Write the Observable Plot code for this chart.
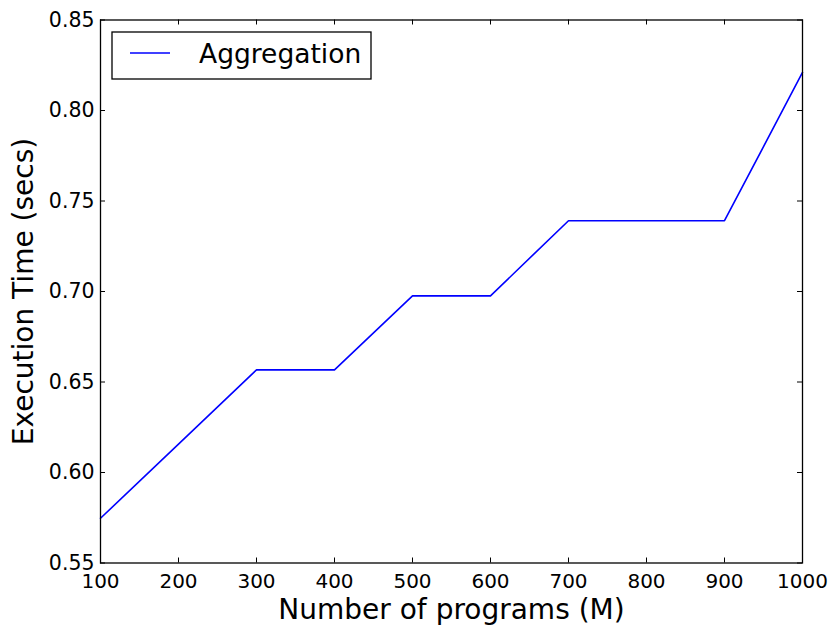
<!DOCTYPE html>
<html>
<head>
<meta charset="utf-8">
<script src="https://cdn.jsdelivr.net/npm/d3@7"></script>
<script src="https://cdn.jsdelivr.net/npm/@observablehq/plot@0.6"></script>
<style>
  html, body { margin: 0; padding: 0; background: white; }
  #wrap { position: relative; width: 836px; height: 626px; font-family: "DejaVu Sans", sans-serif; }
  #legend { position: absolute; left: 0; top: 0; pointer-events: none; }
</style>
</head>
<body>
<div id="wrap"></div>
<script>
const programs = [100, 200, 300, 400, 500, 600, 700, 800, 900, 1000];
const execTime = [0.5747, 0.6157, 0.6567, 0.6567, 0.6976, 0.6976, 0.7391, 0.7391, 0.7391, 0.8210];
const xTicks = [100, 200, 300, 400, 500, 600, 700, 800, 900, 1000];
const yTicks = [0.55, 0.60, 0.65, 0.70, 0.75, 0.80, 0.85];
const seriesName = "Aggregation";
const xLabel = "Number of programs (M)";
const yLabel = "Execution Time (secs)";

const W = 836, H = 626;
const mL = 100, mR = 34, mT = 19.5, mB = 63.5;
const plotW = W - mL - mR, plotH = H - mT - mB;
const tickLen = 5;

const data = programs.map((p, i) => ({x: p, y: execTime[i]}));

const chart = Plot.plot({
  width: W,
  height: H,
  marginLeft: mL,
  marginRight: mR,
  marginTop: mT,
  marginBottom: mB,
  style: {fontFamily: "DejaVu Sans", fontSize: "20px", background: "white", color: "black", overflow: "visible"},
  x: {domain: [100, 1000]},
  y: {domain: [0.55, 0.85]},
  marks: [
    Plot.axisX({ticks: xTicks, tickSize: 0, tickPadding: 11, tickFormat: d3.format("d"), label: null, fontSize: 20}),
    Plot.axisY({ticks: yTicks, tickSize: 0, tickPadding: 6, tickFormat: d3.format(".2f"), label: null, fontSize: 20.5}),
    Plot.tickY(yTicks, {y: d => d, insetRight: plotW - tickLen, stroke: "black", strokeWidth: 1}),
    Plot.tickY(yTicks, {y: d => d, insetLeft: plotW - tickLen, stroke: "black", strokeWidth: 1}),
    Plot.tickX(xTicks, {x: d => d, insetTop: plotH - tickLen, stroke: "black", strokeWidth: 1}),
    Plot.tickX(xTicks, {x: d => d, insetBottom: plotH - tickLen, stroke: "black", strokeWidth: 1}),
    Plot.line(data, {x: "x", y: "y", stroke: "#0000ff", strokeWidth: 1.6}),
    Plot.frame({stroke: "black", strokeWidth: 1.3}),
    Plot.text([xLabel], {frameAnchor: "bottom", dy: 47, text: d => d, fontSize: 28, lineAnchor: "middle", textAnchor: "middle", fill: "black"}),
    Plot.text([yLabel], {frameAnchor: "left", dx: -76, rotate: -90, text: d => d, fontSize: 28, lineAnchor: "middle", textAnchor: "middle", fill: "black"})
  ]
});

const wrap = document.getElementById("wrap");
wrap.appendChild(chart);

// Legend (inside the plot area, upper left)
const ns = "http://www.w3.org/2000/svg";
const leg = document.createElementNS(ns, "svg");
leg.setAttribute("id", "legend");
leg.setAttribute("width", W);
leg.setAttribute("height", H);
leg.innerHTML = `
  <rect x="112" y="32" width="259" height="47" fill="white" stroke="black" stroke-width="1.3"></rect>
  <line x1="130" y1="53" x2="170" y2="53" stroke="#0000ff" stroke-width="1.6"></line>
  <text x="199" y="63" font-family="DejaVu Sans" font-size="26.5" fill="black">${seriesName}</text>
`;
wrap.appendChild(leg);
</script>
</body>
</html>
